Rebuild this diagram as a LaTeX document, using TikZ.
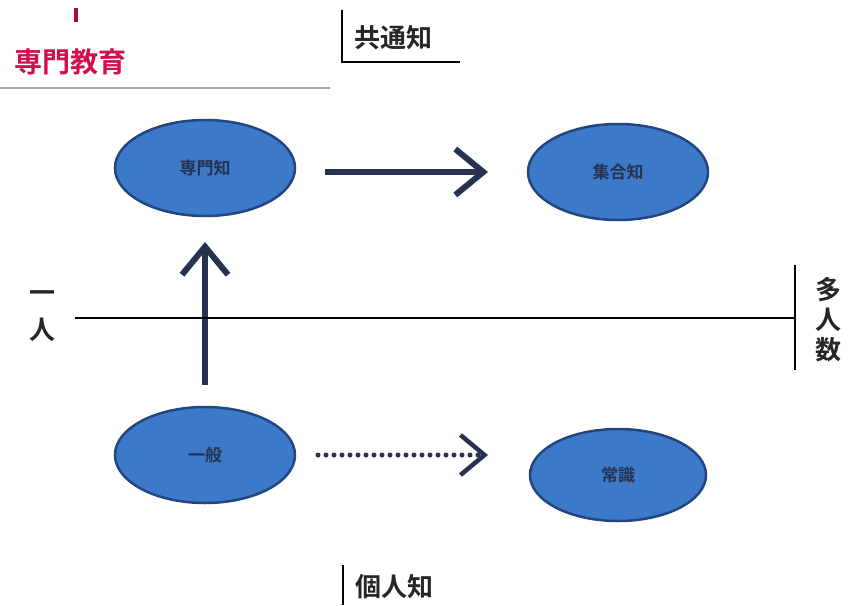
\documentclass[tikz,border=0pt]{standalone}
\usepackage{fontspec}
\setmainfont{Noto Sans CJK JP}[BoldFont={* Bold}]
\usetikzlibrary{arrows.meta,shapes.geometric}
\definecolor{ellfill}{HTML}{3D79C9}
\definecolor{elldraw}{HTML}{22467F}
\definecolor{arrcol}{HTML}{26324F}
\definecolor{redtxt}{HTML}{D01048}
\begin{document}
\begin{tikzpicture}[x=1pt,y=-1pt,
  bubble/.style={ellipse, fill=ellfill, draw=elldraw, line width=2.5pt, minimum width=180pt, minimum height=96pt, inner sep=0pt, font=\bfseries\fontsize{17}{17}\selectfont, text=arrcol},
  lbl/.style={font=\bfseries\fontsize{26}{26}\selectfont, text=black!85, inner sep=0pt},
  bigarrow/.style={draw=arrcol, line width=6pt, -{Straight Barb[length=28pt,width=46pt,line width=6pt]}},
  dotarrow/.style={draw=arrcol, line width=5pt, line cap=round, dash pattern=on 0pt off 8pt, -{Straight Barb[length=24pt,width=40pt,line width=4.5pt]}},
  thinline/.style={draw=black, line width=1.4pt}]
\useasboundingbox (0,0) rectangle (853,605);
% nodes
\node[bubble] (a) at (205,168) {専門知};
\node[bubble] (b) at (618,172) {集合知};
\node[bubble] (c) at (205,455) {一般};
\node[bubble, minimum width=176pt, minimum height=92pt] (d) at (618,475) {常識};
% arrows
\coordinate (ab1) at (325,172);
\coordinate (ab2) at (488,172);
\draw[bigarrow] (ab1) -- (ab2);
\coordinate (ca1) at (205,385);
\coordinate (ca2) at (205,242);
\draw[bigarrow] (ca1) -- (ca2);
\coordinate (cd1) at (318,455);
\coordinate (cd2) at (488,455);
\draw[dotarrow] (cd1) -- (cd2);
% axes
\coordinate (axl) at (75,318);
\coordinate (axr) at (795,318);
\draw[thinline] (axl) -- (axr);
\coordinate (vrt) at (795,265);
\coordinate (vrb) at (795,370);
\draw[thinline] (vrt) -- (vrb);
\node[lbl] (one1) at (42,297) {一};
\node[lbl] (one2) at (42,330) {人};
\node[lbl] (many1) at (828,290) {多};
\node[lbl] (many2) at (828,320) {人};
\node[lbl] (many3) at (828,350) {数};
% top label
\coordinate (kt) at (342,10);
\coordinate (kc) at (342,62);
\coordinate (kr) at (460,62);
\draw[thinline] (kt) -- (kc) -- (kr);
\node[lbl, anchor=west] (kyo) at (354,38) {共通知};
% bottom label
\coordinate (pt1) at (343,565);
\coordinate (pt2) at (343,605);
\draw[thinline] (pt1) -- (pt2);
\node[lbl, anchor=west] (ko) at (355,587) {個人知};
% red text
\node[font=\bfseries\fontsize{28}{28}\selectfont, text=redtxt, inner sep=0pt, anchor=west] (sen) at (14,62) {専門教育};
\coordinate (rm1) at (76,8);
\coordinate (rm2) at (76,22);
\draw[redtxt!80!black, line width=3.5pt] (rm1) -- (rm2);
\coordinate (gl1) at (0,88);
\coordinate (gl2) at (330,88);
\draw[draw=gray!70, line width=1.2pt] (gl1) -- (gl2);
\end{tikzpicture}
\end{document}
